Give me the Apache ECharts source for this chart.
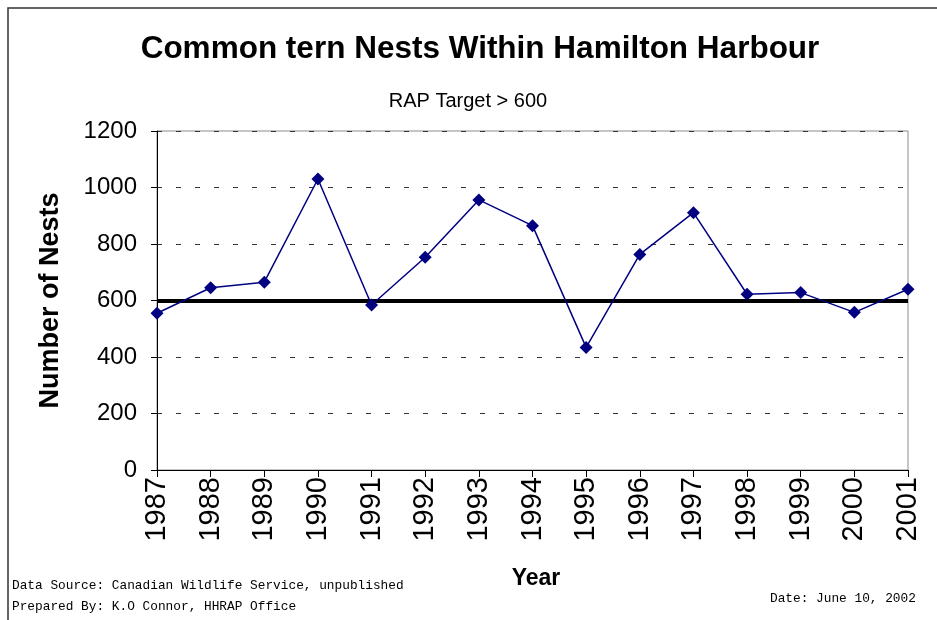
<!DOCTYPE html>
<html>
<head>
<meta charset="utf-8">
<script src="https://cdn.jsdelivr.net/npm/echarts@6/dist/echarts.min.js"></script>
<style>
  html, body { margin: 0; padding: 0; background: #fff; }
  #chart { width: 937px; height: 620px; }
</style>
</head>
<body>
<div id="chart"></div>
<script>
// Common tern nest counts, Hamilton Harbour
const years = ['1987', '1988', '1989', '1990', '1991', '1992', '1993', '1994',
               '1995', '1996', '1997', '1998', '1999', '2000', '2001'];
const nests = [555, 645, 665, 1030, 584, 753, 956, 865, 434, 763, 911, 622, 628, 558, 640];
const rapTarget = 600;
const yTicks = { min: 0, max: 1200, interval: 200 };

const chart = echarts.init(document.getElementById('chart'), null, { renderer: 'canvas' });

const sans = 'Liberation Sans, Arial, sans-serif';
const mono = 'Liberation Mono, Courier New, monospace';

chart.setOption({
  backgroundColor: '#ffffff',
  animation: false,
  grid: {
    left: 157, right: 29, top: 131, bottom: 150,
    show: true, borderColor: '#8c8c8c', borderWidth: 1, backgroundColor: 'transparent'
  },
  xAxis: {
    type: 'category',
    data: years,
    boundaryGap: false,
    axisLine: { lineStyle: { color: '#000', width: 1 } },
    axisTick: { show: true, length: 7, inside: false, alignWithLabel: true, lineStyle: { color: '#000' } },
    axisLabel: { rotate: 90, fontFamily: sans, fontSize: 29, color: '#000', margin: 7, interval: 0 },
    splitLine: { show: false }
  },
  yAxis: {
    type: 'value',
    min: yTicks.min, max: yTicks.max, interval: yTicks.interval,
    name: 'Number of Nests',
    nameLocation: 'middle',
    nameGap: 93,
    nameTextStyle: { fontFamily: sans, fontSize: 27, fontWeight: 'bold', color: '#000' },
    axisLine: { show: true, lineStyle: { color: '#000', width: 1 } },
    axisTick: { show: true, length: 6, lineStyle: { color: '#000' } },
    axisLabel: {
      fontFamily: sans, fontSize: 24, color: '#000', margin: 20,
      formatter: (v) => String(v)
    },
    splitLine: { show: true, lineStyle: { color: '#333', width: 1, type: [5, 14] } }
  },
  series: [{
    type: 'line',
    data: nests,
    symbol: 'diamond',
    symbolSize: 13,
    lineStyle: { color: '#000080', width: 1.5 },
    itemStyle: { color: '#000080' },
    z: 5,
    markLine: {
      silent: true,
      symbol: 'none',
      label: { show: false },
      lineStyle: { color: '#000', width: 4, type: 'solid' },
      data: [{ yAxis: rapTarget }],
      z: 3
    }
  }],
  graphic: [
    {
      type: 'rect', silent: true,
      shape: { x: 8, y: 8, width: 960, height: 640 },
      style: { fill: 'none', stroke: '#333', lineWidth: 1.5 }
    },
    {
      type: 'text', silent: true,
      x: 480, y: 49,
      style: {
        text: 'Common tern Nests Within Hamilton Harbour',
        font: 'bold 31.5px ' + sans, fill: '#000',
        align: 'center', verticalAlign: 'middle'
      }
    },
    {
      type: 'text', silent: true,
      x: 468, y: 101,
      style: {
        text: 'RAP Target > 600',
        font: '20px ' + sans, fill: '#000',
        align: 'center', verticalAlign: 'middle'
      }
    },
    {
      type: 'text', silent: true,
      x: 536, y: 579,
      style: {
        text: 'Year',
        font: 'bold 23px ' + sans, fill: '#000',
        align: 'center', verticalAlign: 'middle'
      }
    },
    {
      type: 'text', silent: true,
      x: 12, y: 586,
      style: {
        text: 'Data Source: Canadian Wildlife Service, unpublished',
        font: '12.8px ' + mono, fill: '#000',
        align: 'left', verticalAlign: 'middle'
      }
    },
    {
      type: 'text', silent: true,
      x: 12, y: 607,
      style: {
        text: 'Prepared By: K.O Connor, HHRAP Office',
        font: '12.8px ' + mono, fill: '#000',
        align: 'left', verticalAlign: 'middle'
      }
    },
    {
      type: 'text', silent: true,
      x: 770, y: 599,
      style: {
        text: 'Date: June 10, 2002',
        font: '12.8px ' + mono, fill: '#000',
        align: 'left', verticalAlign: 'middle'
      }
    }
  ]
});
</script>
</body>
</html>
